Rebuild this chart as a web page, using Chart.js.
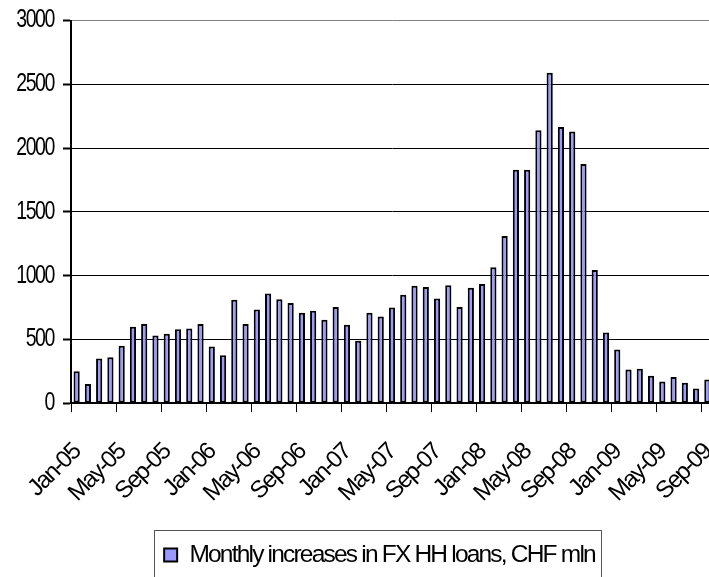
<!DOCTYPE html>
<html>
<head>
<meta charset="utf-8">
<script src="https://cdn.jsdelivr.net/npm/chart.js@4.4.1/dist/chart.umd.min.js"></script>
<style>
  html, body { margin: 0; padding: 0; background: #fff; overflow: hidden; }
  #marco { width: 709px; height: 577px; overflow: hidden; position: relative; }
  #lienzo { width: 760px; height: 600px; position: absolute; left: 0; top: 0; }
</style>
</head>
<body>
<div id="marco"><div id="lienzo"><canvas id="grafica-creditos"></canvas></div></div>
<script>
// Meses (categorías)
const meses = [
  'Jan-05', 'Feb-05', 'Mar-05', 'Apr-05', 'May-05', 'Jun-05', 'Jul-05', 'Aug-05', 'Sep-05', 'Oct-05', 'Nov-05', 'Dec-05',
  'Jan-06', 'Feb-06', 'Mar-06', 'Apr-06', 'May-06', 'Jun-06', 'Jul-06', 'Aug-06', 'Sep-06', 'Oct-06', 'Nov-06', 'Dec-06',
  'Jan-07', 'Feb-07', 'Mar-07', 'Apr-07', 'May-07', 'Jun-07', 'Jul-07', 'Aug-07', 'Sep-07', 'Oct-07', 'Nov-07', 'Dec-07',
  'Jan-08', 'Feb-08', 'Mar-08', 'Apr-08', 'May-08', 'Jun-08', 'Jul-08', 'Aug-08', 'Sep-08', 'Oct-08', 'Nov-08', 'Dec-08',
  'Jan-09', 'Feb-09', 'Mar-09', 'Apr-09', 'May-09', 'Jun-09', 'Jul-09', 'Aug-09', 'Sep-09'
];

// Incrementos mensuales, CHF mln
const incrementos = [
  250, 150, 350, 360, 450, 600, 620, 530, 545, 580, 585, 620,
  445, 375, 810, 620, 735, 860, 815, 785, 710, 725, 655, 755,
  615, 490, 710, 680, 750, 850, 920, 910, 820, 925, 755, 905,
  935, 1065, 1310, 1830, 1830, 2140, 2590, 2165, 2130, 1875, 1045, 555,
  420, 265, 270, 215, 170, 205, 160, 115, 185
];

const marcasY = [0, 500, 1000, 1500, 2000, 2500, 3000];
const nombreSerie = 'Monthly increases in FX HH loans, CHF mln';

Chart.defaults.font.family = "'Liberation Sans', Arial, sans-serif";
Chart.defaults.color = '#000';

// Texto comprimido como en el original
const espaciado = '-1.8px';
const textoApretado = {
  id: 'textoApretado',
  beforeUpdate(chart) { chart.ctx.letterSpacing = espaciado; },
  beforeDraw(chart) {
    chart.ctx.letterSpacing = espaciado;
    // etiquetas del eje Y más estrechas
    const s = chart.scales.y;
    if (!s._estrecho) {
      const original = s.drawLabels;
      s.drawLabels = function (area) {
        const c = this.ctx;
        const ancla = this.right - this.options.grid.tickLength - this.options.ticks.padding;
        c.save();
        c.translate(ancla, 0);
        c.scale(0.78, 1);
        c.translate(-ancla, 0);
        original.call(this, area);
        c.restore();
      };
      s._estrecho = true;
    }
  }
};

// Recuadro alrededor de la leyenda
const recuadroLeyenda = {
  id: 'recuadroLeyenda',
  afterLayout(chart) {
    chart.legend.left += 23;
    chart.legend.right += 23;
    chart.legend.top += 5.5;
    chart.legend.bottom += 5.5;
  },
  afterDraw(chart) {
    const lg = chart.legend;
    const hb = lg.legendHitBoxes[0];
    if (!hb) return;
    const ctx = chart.ctx;
    ctx.save();
    ctx.strokeStyle = '#555';
    ctx.lineWidth = 1;
    ctx.strokeRect(Math.round(hb.left - 10) + 0.5, Math.round(lg.top - 3) + 0.5, Math.round(hb.width + 16), 80);
    ctx.restore();
  }
};

const ctx = document.getElementById('grafica-creditos').getContext('2d');

new Chart(ctx, {
  type: 'bar',
  data: {
    labels: meses,
    datasets: [{
      label: nombreSerie,
      data: incrementos,
      backgroundColor: '#9999ff',
      borderColor: '#000',
      borderWidth: 2,
      borderSkipped: false,
      barPercentage: 0.55,
      categoryPercentage: 1
    }]
  },
  options: {
    responsive: true,
    maintainAspectRatio: false,
    animation: false,
    devicePixelRatio: 1,
    layout: { padding: { top: 20.5, right: 47, bottom: 28.3, left: 0 } },
    plugins: {
      legend: {
        position: 'bottom',
        labels: {
          boxWidth: 13,
          boxHeight: 13,
          padding: 10,
          color: '#000',
          font: { size: 24.5 }
        }
      },
      tooltip: { enabled: false }
    },
    scales: {
      x: {
        offset: true,
        grid: {
          offset: true,
          drawOnChartArea: false,
          tickLength: 9,
          tickWidth: 1,
          tickColor: c => (c.index % 4 === 0 ? '#000' : 'rgba(0,0,0,0)')
        },
        border: { color: '#000', width: 1.5 },
        ticks: {
          autoSkip: false,
          maxRotation: 45,
          minRotation: 45,
          padding: 26,
          color: '#000',
          font: { size: 24 },
          callback: (v, i) => (i % 4 === 0 ? meses[i] : '')
        },
        afterFit: s => { s.height = 124; }
      },
      y: {
        min: 0,
        max: 3000,
        afterBuildTicks: s => { s.ticks = marcasY.map(v => ({ value: v })); },
        ticks: {
          padding: 9,
          color: '#000',
          font: { size: 25 },
          callback: v => String(v)
        },
        grid: {
          color: c => (c.tick && c.tick.value === 3000 ? '#808080' : '#000'),
          lineWidth: 1,
          tickLength: 8,
          tickWidth: 2,
          tickColor: '#000'
        },
        border: { color: '#000', width: 2 },
        afterFit: s => { s.width = 71; s.paddingTop = 0; s.paddingBottom = 0; }
      }
    }
  },
  plugins: [textoApretado, recuadroLeyenda]
});
</script>
</body>
</html>
